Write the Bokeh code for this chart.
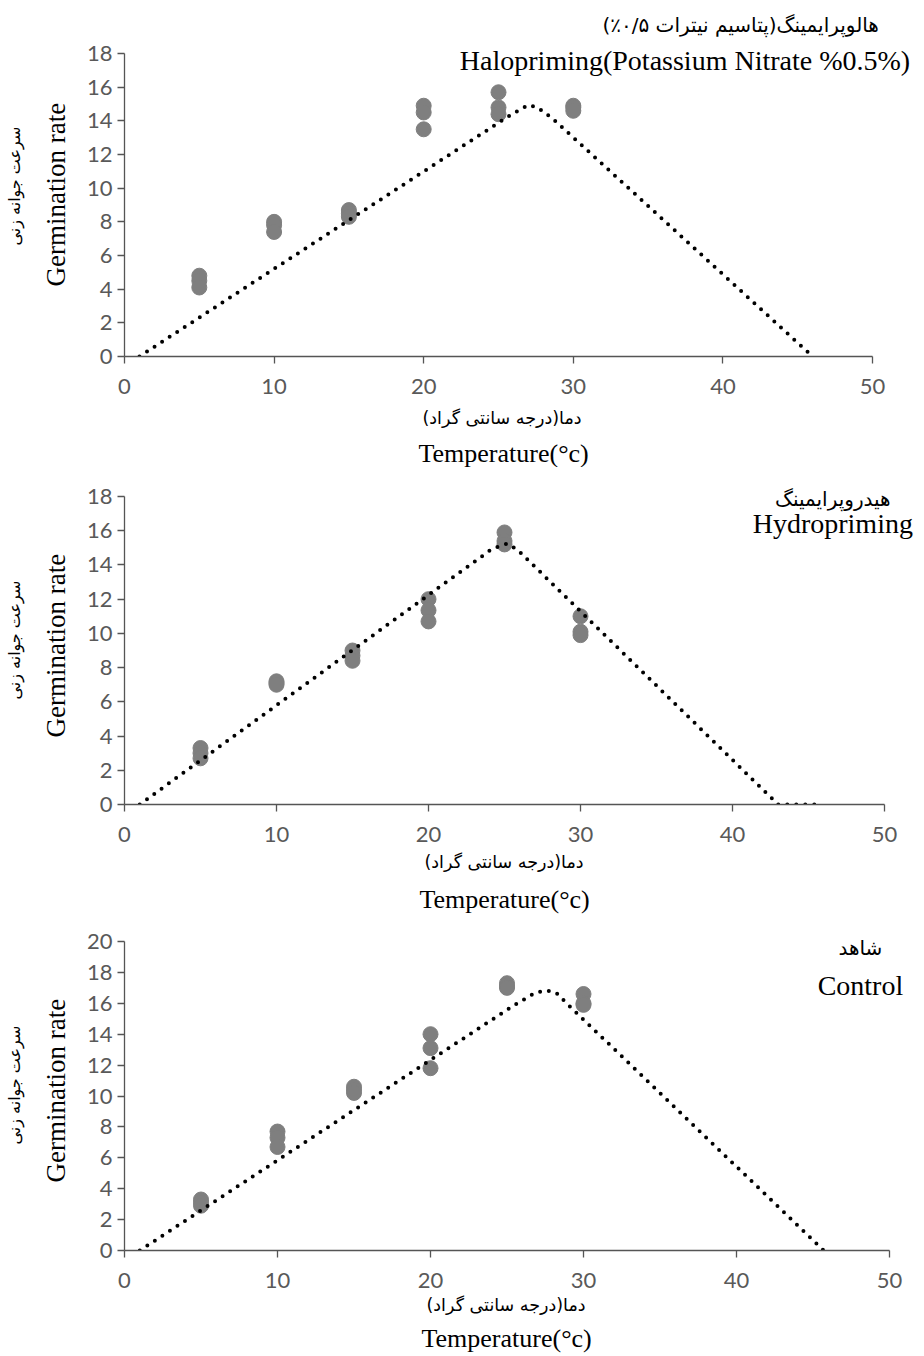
import math
from bokeh.plotting import figure
from bokeh.models import Range1d, FixedTicker, Label, Title
from bokeh.layouts import column
from bokeh.embed import file_html
from bokeh.resources import INLINE

# ---------------- data ----------------
temperature = [5, 5, 5, 10, 10, 10, 15, 15, 15, 20, 20, 20, 25, 25, 25, 30, 30, 30]

halo_rate = [4.8, 4.5, 4.1, 8.0, 7.8, 7.4, 8.7, 8.5, 8.3,
             14.9, 14.5, 13.5, 15.7, 14.8, 14.4, 14.9, 14.8, 14.6]
hydro_rate = [3.3, 3.0, 2.7, 7.2, 7.1, 7.0, 9.0, 8.7, 8.4,
              12.0, 11.35, 10.7, 15.9, 15.4, 15.2, 11.0, 10.1, 9.9]
control_rate = [3.3, 3.1, 2.9, 7.7, 7.3, 6.7, 10.6, 10.4, 10.2,
                14.0, 13.1, 11.8, 17.3, 17.1, 17.0, 16.6, 16.0, 15.9]

halo_fit_x = [1, 25.8, 27.0, 27.6, 28.6, 46]
halo_fit_y = [0, 14.35, 14.95, 14.8, 14.15, 0]
hydro_fit_x = [1, 24.2, 25.2, 25.9, 43, 45.7]
hydro_fit_y = [0, 14.95, 15.25, 14.85, 0, 0]
control_fit_x = [1, 25.5, 26.8, 27.5, 28.2, 29.0, 45.7]
control_fit_y = [0, 15.9, 16.65, 16.85, 16.7, 15.9, 0]

x_ticks = [0, 10, 20, 30, 40, 50]
y_ticks_18 = [0, 2, 4, 6, 8, 10, 12, 14, 16, 18]
y_ticks_20 = [0, 2, 4, 6, 8, 10, 12, 14, 16, 18, 20]

RLM = "\u200f"
fa_x_label = RLM + "دما(درجه سانتی گراد)" + RLM
fa_y_label = RLM + "سرعت جوانه زنی" + RLM
en_x_label = "Temperature(°c)"
en_y_label = "Germination rate"

titles_en = ["Halopriming(Potassium  Nitrate %0.5%)", "Hydropriming", "Control"]
titles_fa = [RLM + "هالوپرایمینگ(پتاسیم  نیترات ۰/۵٪)" + RLM,
             RLM + "هیدروپرایمینگ" + RLM,
             RLM + "شاهد" + RLM]

SERIF = "Liberation Serif"
SANS = "Lato"
ARABIC = "DejaVu Sans"
AX = "#555555"
FIG_W = 920


def make_panel(rates, fit_x, fit_y, y_axis_max, y_ticks, px_per_x, px_per_y,
               border_left, frame_h, border_bottom, cfg):
    frame_w = FIG_W - border_left
    p = figure(frame_width=frame_w, frame_height=frame_h,
               min_border_left=border_left, min_border_right=0,
               min_border_top=0, min_border_bottom=border_bottom,
               x_range=Range1d(0, frame_w / px_per_x),
               y_range=Range1d(0, frame_h / px_per_y),
               output_backend="svg", toolbar_location=None)
    p.outline_line_color = None
    p.xgrid.visible = False
    p.ygrid.visible = False

    p.xaxis.ticker = FixedTicker(ticks=x_ticks)
    p.yaxis.ticker = FixedTicker(ticks=y_ticks)
    p.xaxis.bounds = (0, 50)
    p.yaxis.bounds = (0, y_axis_max)
    for ax in (p.xaxis[0], p.yaxis[0]):
        ax.axis_line_color = AX
        ax.axis_line_width = 1.3
        ax.major_tick_line_color = AX
        ax.major_tick_line_width = 1.3
        ax.major_tick_in = 0
        ax.major_tick_out = 7
        ax.minor_tick_line_color = None
        ax.major_label_text_font = SANS
        ax.major_label_text_font_size = "22px"
        ax.major_label_text_color = "#595959"
    p.xaxis.major_label_standoff = cfg.get("tick_standoff", 15)
    p.yaxis.major_label_standoff = 5

    p.scatter(temperature, rates, size=15, color="#7f7f7f")
    p.line(fit_x, fit_y, line_color="black", line_width=4,
           line_dash="0 9", line_cap="round")

    # panel titles (inside the extended frame)
    p.add_layout(Label(x=cfg["fa_title"][0], y=cfg["fa_title"][1],
                       text=cfg["fa_title_text"], text_font=ARABIC,
                       text_font_size="20px", text_align="center",
                       text_baseline="middle", text_color="black"))
    p.add_layout(Label(x=cfg["en_title"][0], y=cfg["en_title"][1],
                       text=cfg["en_title_text"], text_font=SERIF,
                       text_font_size="28px", text_align="center",
                       text_baseline="middle", text_color="black"))

    # x axis labels (stacked below the axis)
    p.add_layout(Title(text=fa_x_label, text_font=ARABIC, text_font_size="17.5px",
                       text_font_style="normal", text_color="black",
                       align="left", offset=cfg["fa_x"][0],
                       standoff=cfg["fa_x"][1]), "below")
    p.add_layout(Title(text=en_x_label, text_font=SERIF, text_font_size="26px",
                       text_font_style="normal", text_color="black",
                       align="left", offset=cfg["en_x"][0],
                       standoff=cfg["en_x"][1]), "below")
    # y axis labels (stacked left of the axis)
    p.add_layout(Title(text=en_y_label, text_font=SERIF, text_font_size="27px",
                       text_font_style="normal", text_color="black",
                       align="left", offset=cfg["en_y"][0],
                       standoff=cfg["en_y"][1]), "left")
    p.add_layout(Title(text=fa_y_label, text_font=ARABIC, text_font_size="16px",
                       text_font_style="normal", text_color="black",
                       align="left", offset=cfg["fa_y"][0],
                       standoff=cfg["fa_y"][1]), "left")
    return p


p1 = make_panel(halo_rate, halo_fit_x, halo_fit_y, 18, y_ticks_18,
                14.96, 16.83, 122, 356, 110,
                dict(fa_title=(41.4, 19.67), fa_title_text=titles_fa[0],
                     en_title=(37.7, 17.59), en_title_text=titles_en[0],
                     fa_x=(298, 18), en_x=(294, 0),
                     en_y=(70, 25), fa_y=(111, 5)))

p2 = make_panel(hydro_rate, hydro_fit_x, hydro_fit_y, 18, y_ticks_18,
                15.2, 17.11, 124, 337, 117,
                dict(fa_title=(46.6, 17.83), fa_title_text=titles_fa[1],
                     en_title=(46.6, 16.42), en_title_text=titles_en[1],
                     fa_x=(300, 11), en_x=(295, 11),
                     en_y=(67, 25), fa_y=(105, 5)))

p3 = make_panel(control_rate, control_fit_x, control_fit_y, 20, y_ticks_20,
                15.3, 15.45, 122, 329, 106,
                dict(fa_title=(48.1, 19.61), fa_title_text=titles_fa[2],
                     en_title=(48.1, 17.15), en_title_text=titles_en[2],
                     fa_x=(302, 4), en_x=(297, 10), tick_standoff=15,
                     en_y=(68, 25), fa_y=(106, 5)))

layout = column(p1, p2, p3, spacing=0)
open("out.html", "w").write(file_html(layout, INLINE))
